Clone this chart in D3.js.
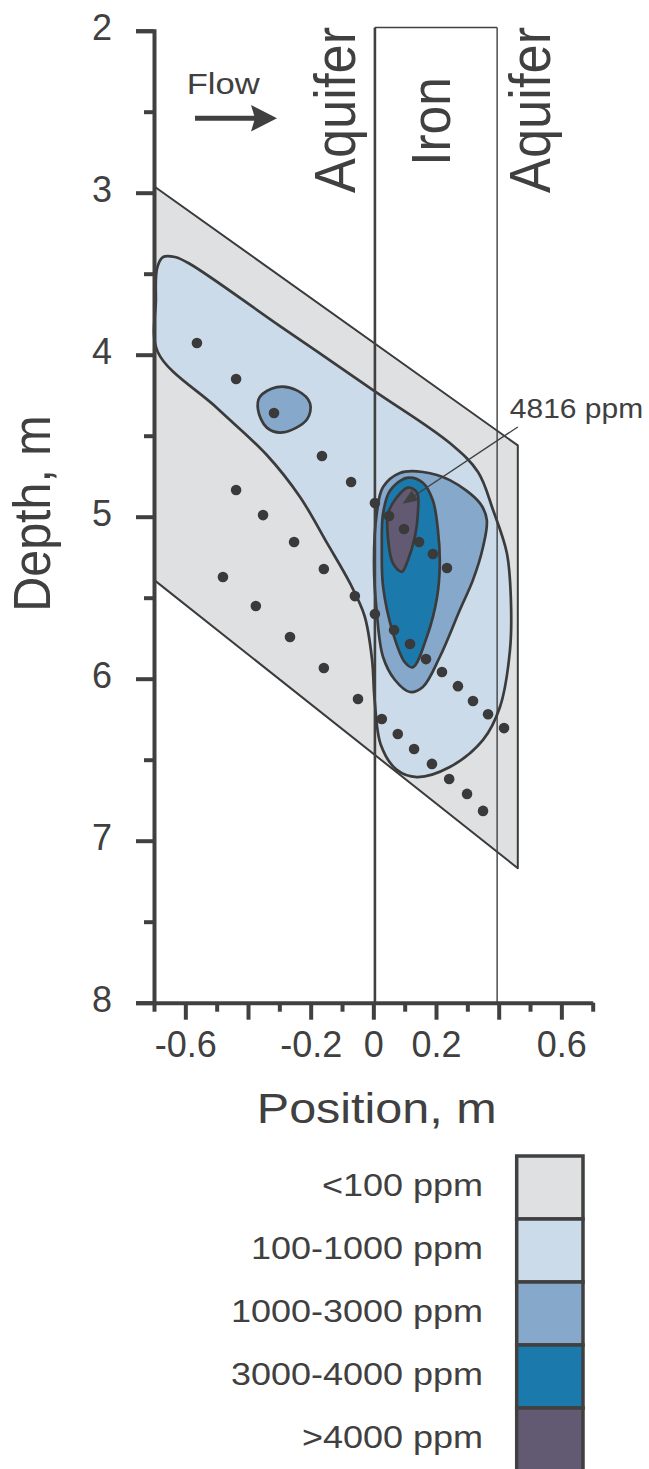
<!DOCTYPE html>
<html>
<head>
<meta charset="utf-8">
<script src="https://cdn.jsdelivr.net/npm/d3@7"></script>
<style>
  body { margin: 0; background: #fff; }
  svg { display: block; font-family: "Liberation Sans", Arial, sans-serif; }
</style>
</head>
<body>
<svg id="chart" width="649" height="1469"></svg>
<script>
////////////////// data (position m, depth m)

const depthTicks = [2, 3, 4, 5, 6, 7, 8]
const depthMinorTicks = [2.5, 3.5, 4.5, 5.5, 6.5, 7.5]
const positionTicks = [-0.6, -0.4, -0.2, 0, 0.2, 0.4, 0.6]
const positionTickLabels = ["-0.6", "", "-0.2", "0", "0.2", "", "0.6"]
const positionMinorTicks = [-0.7, -0.5, -0.3, -0.1, 0.1, 0.3, 0.5, 0.7]

const ironZone = [0.005, 0.395]
const ironTop = 1.98

const legendLabels = ["<100 ppm", "100-1000 ppm", "1000-3000 ppm", "3000-4000 ppm", ">4000 ppm"]
const legendColors = ["#dfe0e2", "#cbdbe9", "#86a8cb", "#1b7aab", "#625a73"]

// sampled zone, everything inside is at least <100 ppm
const zoneBelow100 = [[-0.70, 2.96], [0.461, 4.56], [0.461, 7.17], [-0.70, 5.39]]

const zone100 = [
  [-0.694, 3.662], [-0.690, 3.465], [-0.671, 3.397], [-0.633, 3.397], [-0.585, 3.440],
  [-0.298, 3.823], [-0.001, 4.218], [0.244, 4.545], [0.334, 4.724], [0.382, 4.959],
  [0.426, 5.224], [0.439, 5.514], [0.436, 5.823], [0.404, 6.175], [0.350, 6.378],
  [0.244, 6.545], [0.139, 6.607], [0.075, 6.563], [0.024, 6.409], [0.004, 6.131],
  [-0.004, 5.885], [-0.028, 5.613], [-0.075, 5.409], [-0.148, 5.162], [-0.234, 4.878],
  [-0.340, 4.619], [-0.499, 4.329], [-0.688, 3.983]
]

const zone1000Blob = [
  [-0.362, 4.26], [-0.308, 4.20], [-0.244, 4.22], [-0.202, 4.30],
  [-0.212, 4.40], [-0.289, 4.48], [-0.340, 4.45], [-0.368, 4.34]
]

const zone1000 = [
  [0.002, 5.289], [0.011, 4.977], [0.031, 4.817], [0.085, 4.730], [0.158, 4.724],
  [0.244, 4.774], [0.340, 4.916], [0.362, 5.020], [0.350, 5.187], [0.318, 5.390],
  [0.276, 5.576], [0.212, 5.866], [0.158, 6.051], [0.117, 6.082], [0.069, 6.008],
  [0.031, 5.866], [0.011, 5.594]
]

const zone3000 = [
  [0.031, 4.98], [0.053, 4.84], [0.107, 4.76], [0.158, 4.79], [0.190, 4.90],
  [0.206, 5.08], [0.212, 5.29], [0.203, 5.50], [0.171, 5.74], [0.126, 5.93],
  [0.101, 5.90], [0.063, 5.72], [0.031, 5.43], [0.027, 5.19]
]

const zone4000 = [
  [0.047, 4.98], [0.075, 4.88], [0.110, 4.82], [0.139, 4.85], [0.142, 4.98],
  [0.133, 5.12], [0.110, 5.27], [0.091, 5.34], [0.063, 5.29], [0.047, 5.14]
]

// sampling points, three diagonal rows
const samplePoints = [
  [-0.563, 3.928], [-0.438, 4.150], [-0.317, 4.360], [-0.164, 4.625], [-0.071, 4.786],
  [0.005, 4.915], [0.050, 4.996], [0.098, 5.076], [0.146, 5.156], [0.190, 5.230], [0.235, 5.317],
  [-0.438, 4.835], [-0.352, 4.990], [-0.253, 5.156], [-0.158, 5.323], [-0.059, 5.490],
  [0.005, 5.601], [0.066, 5.700], [0.117, 5.786], [0.168, 5.879], [0.219, 5.959],
  [0.270, 6.046], [0.318, 6.138], [0.366, 6.219], [0.417, 6.305],
  [-0.480, 5.372], [-0.375, 5.551], [-0.266, 5.743], [-0.158, 5.934], [-0.049, 6.125],
  [0.027, 6.249], [0.078, 6.341], [0.130, 6.434], [0.187, 6.526], [0.242, 6.619],
  [0.299, 6.711], [0.350, 6.816]
]

const peak = { pos: 0.093, depth: 4.92, label: "4816 ppm", labelPos: 0.461, labelDepth: 4.446 }

////////////////// scales

const ink = "#404040"
const svg = d3.select("#chart")
const x = d3.scaleLinear().domain([-0.7, 0.7]).range([154, 592.7])
const y = d3.scaleLinear().domain([2, 8]).range([30.7, 1002.7])

const smooth = d3.line().x(d => x(d[0])).y(d => y(d[1])).curve(d3.curveCatmullRomClosed.alpha(0.5))
const straight = d3.line().x(d => x(d[0])).y(d => y(d[1])).curve(d3.curveLinearClosed)

const regions = [
  { band: 0, pts: zoneBelow100, line: straight, sw: 2 },
  { band: 1, pts: zone100, line: smooth, sw: 2.7 },
  { band: 2, pts: zone1000Blob, line: smooth, sw: 2.7 },
  { band: 2, pts: zone1000, line: smooth, sw: 2.7 },
  { band: 3, pts: zone3000, line: smooth, sw: 2.7 },
  { band: 4, pts: zone4000, line: smooth, sw: 2.7 }
]

svg.append("g")
  .selectAll("path")
  .data(regions)
  .join("path")
  .attr("d", d => d.line(d.pts))
  .attr("fill", d => legendColors[d.band])
  .attr("stroke", "#3b3b3b")
  .attr("stroke-width", d => d.sw)
  .attr("stroke-linejoin", "round")

////////////////// iron zone box

const box = svg.append("g").attr("stroke", ink).attr("fill", "none")
box.append("line")
  .attr("x1", x(ironZone[0])).attr("x2", x(ironZone[0]))
  .attr("y1", y(ironTop)).attr("y2", y(8))
  .attr("stroke-width", 2.6)
box.append("line")
  .attr("x1", x(ironZone[1])).attr("x2", x(ironZone[1]))
  .attr("y1", y(ironTop)).attr("y2", y(8))
  .attr("stroke-width", 1.4)
box.append("line")
  .attr("x1", x(ironZone[0])).attr("x2", x(ironZone[1]))
  .attr("y1", y(ironTop)).attr("y2", y(ironTop))
  .attr("stroke-width", 1.4)

////////////////// peak annotation

const tipX = x(peak.pos), tipY = y(peak.depth)
const fromX = x(peak.labelPos), fromY = y(peak.labelDepth)
const ang = Math.atan2(tipY - fromY, tipX - fromX)
svg.append("line")
  .attr("x1", fromX).attr("y1", fromY)
  .attr("x2", tipX - 8 * Math.cos(ang)).attr("y2", tipY - 8 * Math.sin(ang))
  .attr("stroke", ink).attr("stroke-width", 1.3)
const headLen = 15, headW = 6
svg.append("path")
  .attr("d", d3.line()([
    [tipX, tipY],
    [tipX - headLen * Math.cos(ang) + headW * Math.sin(ang), tipY - headLen * Math.sin(ang) - headW * Math.cos(ang)],
    [tipX - headLen * Math.cos(ang) - headW * Math.sin(ang), tipY - headLen * Math.sin(ang) + headW * Math.cos(ang)]
  ]) + "Z")
  .attr("fill", ink)

////////////////// sample points

svg.append("g")
  .selectAll("circle")
  .data(samplePoints)
  .join("circle")
  .attr("cx", d => x(d[0]))
  .attr("cy", d => y(d[1]))
  .attr("r", 5.3)
  .attr("fill", "#3a3a3a")

////////////////// axes

function styleAxis(g, size) {
  g.attr("font-family", null).attr("font-size", size)
  g.selectAll("line").attr("stroke", ink).attr("stroke-width", 4)
  g.selectAll(".domain").attr("stroke", ink).attr("stroke-width", 4)
  g.selectAll("text").attr("fill", ink)
}

svg.append("g")
  .attr("transform", `translate(0,${y(8)})`)
  .call(d3.axisBottom(x).tickValues(positionMinorTicks).tickSize(9).tickFormat(""))
  .call(g => g.select(".domain").remove())
  .call(g => styleAxis(g, 36))

svg.append("g")
  .attr("transform", `translate(0,${y(8)})`)
  .call(d3.axisBottom(x).tickValues(positionTicks).tickSize(17).tickSizeOuter(0).tickPadding(12)
    .tickFormat((d, i) => positionTickLabels[i]))
  .call(g => styleAxis(g, 36))

svg.append("g")
  .attr("transform", `translate(${x(-0.7)},0)`)
  .call(d3.axisLeft(y).tickValues(depthMinorTicks).tickSize(10).tickFormat(""))
  .call(g => g.select(".domain").remove())
  .call(g => styleAxis(g, 36))

svg.append("g")
  .attr("transform", `translate(${x(-0.7)},0)`)
  .call(d3.axisLeft(y).tickValues(depthTicks).tickSize(18).tickSizeOuter(18).tickPadding(24)
    .tickFormat(d3.format("d")))
  .call(g => styleAxis(g, 36))
  .call(g => g.selectAll("text").attr("dy", "0.24em"))

////////////////// labels

function hText(txt, px, py, size, anchor, sy) {
  return svg.append("text")
    .attr("transform", `translate(${px},${py}) scale(1,${sy})`)
    .attr("font-size", size)
    .attr("text-anchor", anchor)
    .attr("fill", ink)
    .text(txt)
}

function vText(txt, px, py, size, anchor, sx) {
  return svg.append("text")
    .attr("transform", `translate(${px},${py}) rotate(-90) scale(${sx},1)`)
    .attr("font-size", size)
    .attr("text-anchor", anchor)
    .attr("fill", ink)
    .text(txt)
}

hText("Position, m", 376.7, 1123, 48.5, "middle", 0.86)
vText("Depth, m", 50, 513.5, 51.5, "middle", 0.94)

vText("Aquifer", 355, 193, 57, "start", 0.92)
vText("Iron", 450, 121.5, 56, "middle", 0.92)
vText("Aquifer", 550, 193, 57, "start", 0.92)

hText("Flow", 186.7, 94, 34.6, "start", 0.86)
svg.append("line")
  .attr("x1", 195).attr("x2", 256).attr("y1", 118.3).attr("y2", 118.3)
  .attr("stroke", ink).attr("stroke-width", 5)
svg.append("path")
  .attr("d", "M251,105L277,118.3L251,131.6L255,118.3Z")
  .attr("fill", ink)

hText(peak.label, x(peak.labelPos) - 8, 418.3, 30, "start", 0.9)

////////////////// legend

const legendY = d3.scaleBand().domain(legendLabels).range([1156, 1471])
const legend = svg.append("g")

legend.selectAll("rect")
  .data(legendLabels)
  .join("rect")
  .attr("x", 516.7)
  .attr("y", d => legendY(d))
  .attr("width", 66.3)
  .attr("height", legendY.bandwidth())
  .attr("fill", (d, i) => legendColors[i])
  .attr("stroke", ink)
  .attr("stroke-width", 3.5)

legendLabels.forEach(d => {
  hText(d, 483, legendY(d) + legendY.bandwidth() / 2 + 8, 36, "end", 0.86)
})
</script>
</body>
</html>
